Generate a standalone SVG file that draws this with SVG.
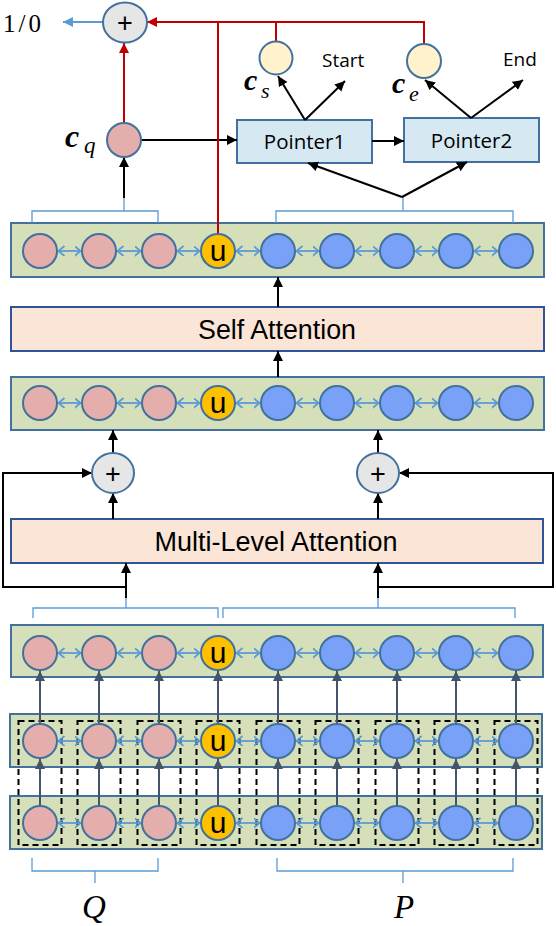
<svg xmlns="http://www.w3.org/2000/svg" width="556" height="926" viewBox="0 0 556 926">
<defs>
<style>
.row{fill:#D5DFBA;stroke:#41719C;stroke-width:2}
.att{fill:#FBE5D6;stroke:#2F5597;stroke-width:2}
.ptr{fill:#D6E9F3;stroke:#41719C;stroke-width:2}
.q{fill:#E3AEAB;stroke:#41719C;stroke-width:2}
.p{fill:#79A1F8;stroke:#41719C;stroke-width:2}
.u{fill:#FFC000;stroke:#41719C;stroke-width:2}
.c{fill:#FFF2CC;stroke:#41719C;stroke-width:2}
.plus{fill:#E7E6E6;stroke:#41719C;stroke-width:2}
.dash{fill:none;stroke:#000;stroke-width:2;stroke-dasharray:6,4}
.br{fill:none;stroke:#5B9BD5;stroke-width:1.3}
.blk{fill:none;stroke:#000;stroke-width:2}
.red{fill:none;stroke:#C00000;stroke-width:2}
.sl{fill:none;stroke:#44546A;stroke-width:2}
.dbl{fill:none;stroke:#5B9BD5;stroke-width:1.8}
.sans{font-family:"Liberation Sans",Arial,sans-serif;fill:#000}
.os{font-family:"Open Sans","Liberation Sans",sans-serif;fill:#000}
.ser{font-family:"Liberation Serif","DejaVu Serif",serif;fill:#000}
</style>
<marker id="ab" markerUnits="userSpaceOnUse" markerWidth="12" markerHeight="12" refX="10" refY="5" orient="auto"><path d="M0,0 L10,5 L0,10 Z" fill="#000"/></marker>
<marker id="ar" markerUnits="userSpaceOnUse" markerWidth="12" markerHeight="12" refX="10" refY="5" orient="auto"><path d="M0,0 L10,5 L0,10 Z" fill="#C00000"/></marker>
<marker id="abl" markerUnits="userSpaceOnUse" markerWidth="12" markerHeight="12" refX="10" refY="5" orient="auto"><path d="M0,0 L10,5 L0,10 Z" fill="#5B9BD5"/></marker>
<marker id="as" markerUnits="userSpaceOnUse" markerWidth="12" markerHeight="12" refX="10" refY="5" orient="auto"><path d="M0,0 L10,5 L0,10 Z" fill="#44546A"/></marker>
<marker id="chev" markerUnits="userSpaceOnUse" markerWidth="10" markerHeight="12" refX="6.5" refY="5" orient="auto-start-reverse"><path d="M0,0 L6,5 L0,10" fill="none" stroke="#5B9BD5" stroke-width="1.8"/></marker>
</defs>

<!-- row boxes -->
<g id="row1"><rect class="row" x="11" y="223" width="533" height="54"/></g>
<g id="row2"><rect class="row" x="11" y="377" width="533" height="53"/></g>
<g id="row3"><rect class="row" x="11" y="625" width="532" height="52"/></g>
<g id="row4"><rect class="row" x="10" y="714" width="532" height="53"/></g>
<g id="row5"><rect class="row" x="10" y="796" width="532" height="53"/></g>

<g id="self-attention"><rect class="att" x="11" y="307" width="533" height="44"/><text class="sans" x="277" y="338.5" font-size="26.8" text-anchor="middle">Self Attention</text></g>
<g id="multi-level-attention"><rect class="att" x="11" y="519" width="532" height="44"/><text class="sans" x="276" y="550.5" font-size="27" text-anchor="middle">Multi-Level Attention</text></g>

<g id="pointer1"><rect class="ptr" x="237" y="120" width="135" height="43"/><text class="os" x="304.5" y="149" font-size="20.5" text-anchor="middle">Pointer1</text></g>
<g id="pointer2"><rect class="ptr" x="404" y="118" width="135" height="44"/><text class="os" x="471.5" y="147.5" font-size="20.5" text-anchor="middle">Pointer2</text></g>

<!-- dashed groupings -->
<g id="dashed-groups">
<rect class="dash" x="18.5" y="721" width="43" height="124"/>
<rect class="dash" x="77.5" y="721" width="43" height="124"/>
<rect class="dash" x="137.5" y="721" width="43" height="124"/>
<rect class="dash" x="196.5" y="721" width="43" height="124"/>
<rect class="dash" x="256.5" y="721" width="43" height="124"/>
<rect class="dash" x="315.5" y="721" width="43" height="124"/>
<rect class="dash" x="375.5" y="721" width="43" height="124"/>
<rect class="dash" x="434.5" y="721" width="43" height="124"/>
<rect class="dash" x="494.5" y="721" width="43" height="124"/>
</g>

<!-- connectors -->
<g id="connectors">
<g id="bidir">
<path class="dbl" d="M58,251 H81" marker-start="url(#chev)" marker-end="url(#chev)"/>
<path class="dbl" d="M117,251 H141" marker-start="url(#chev)" marker-end="url(#chev)"/>
<path class="dbl" d="M177,251 H200" marker-start="url(#chev)" marker-end="url(#chev)"/>
<path class="dbl" d="M236,251 H260" marker-start="url(#chev)" marker-end="url(#chev)"/>
<path class="dbl" d="M296,251 H319" marker-start="url(#chev)" marker-end="url(#chev)"/>
<path class="dbl" d="M355,251 H379" marker-start="url(#chev)" marker-end="url(#chev)"/>
<path class="dbl" d="M415,251 H438" marker-start="url(#chev)" marker-end="url(#chev)"/>
<path class="dbl" d="M474,251 H498" marker-start="url(#chev)" marker-end="url(#chev)"/>
<path class="dbl" d="M58,403 H81" marker-start="url(#chev)" marker-end="url(#chev)"/>
<path class="dbl" d="M117,403 H141" marker-start="url(#chev)" marker-end="url(#chev)"/>
<path class="dbl" d="M177,403 H200" marker-start="url(#chev)" marker-end="url(#chev)"/>
<path class="dbl" d="M236,403 H260" marker-start="url(#chev)" marker-end="url(#chev)"/>
<path class="dbl" d="M296,403 H319" marker-start="url(#chev)" marker-end="url(#chev)"/>
<path class="dbl" d="M355,403 H379" marker-start="url(#chev)" marker-end="url(#chev)"/>
<path class="dbl" d="M415,403 H438" marker-start="url(#chev)" marker-end="url(#chev)"/>
<path class="dbl" d="M474,403 H498" marker-start="url(#chev)" marker-end="url(#chev)"/>
<path class="dbl" d="M58,653 H81" marker-start="url(#chev)" marker-end="url(#chev)"/>
<path class="dbl" d="M117,653 H141" marker-start="url(#chev)" marker-end="url(#chev)"/>
<path class="dbl" d="M177,653 H200" marker-start="url(#chev)" marker-end="url(#chev)"/>
<path class="dbl" d="M236,653 H260" marker-start="url(#chev)" marker-end="url(#chev)"/>
<path class="dbl" d="M296,653 H319" marker-start="url(#chev)" marker-end="url(#chev)"/>
<path class="dbl" d="M355,653 H379" marker-start="url(#chev)" marker-end="url(#chev)"/>
<path class="dbl" d="M415,653 H438" marker-start="url(#chev)" marker-end="url(#chev)"/>
<path class="dbl" d="M474,653 H498" marker-start="url(#chev)" marker-end="url(#chev)"/>
<path class="dbl" d="M58,741 H81" marker-start="url(#chev)" marker-end="url(#chev)"/>
<path class="dbl" d="M117,741 H141" marker-start="url(#chev)" marker-end="url(#chev)"/>
<path class="dbl" d="M177,741 H200" marker-start="url(#chev)" marker-end="url(#chev)"/>
<path class="dbl" d="M236,741 H260" marker-start="url(#chev)" marker-end="url(#chev)"/>
<path class="dbl" d="M296,741 H319" marker-start="url(#chev)" marker-end="url(#chev)"/>
<path class="dbl" d="M355,741 H379" marker-start="url(#chev)" marker-end="url(#chev)"/>
<path class="dbl" d="M415,741 H438" marker-start="url(#chev)" marker-end="url(#chev)"/>
<path class="dbl" d="M474,741 H498" marker-start="url(#chev)" marker-end="url(#chev)"/>
<path class="dbl" d="M58,823 H81" marker-start="url(#chev)" marker-end="url(#chev)"/>
<path class="dbl" d="M117,823 H141" marker-start="url(#chev)" marker-end="url(#chev)"/>
<path class="dbl" d="M177,823 H200" marker-start="url(#chev)" marker-end="url(#chev)"/>
<path class="dbl" d="M236,823 H260" marker-start="url(#chev)" marker-end="url(#chev)"/>
<path class="dbl" d="M296,823 H319" marker-start="url(#chev)" marker-end="url(#chev)"/>
<path class="dbl" d="M355,823 H379" marker-start="url(#chev)" marker-end="url(#chev)"/>
<path class="dbl" d="M415,823 H438" marker-start="url(#chev)" marker-end="url(#chev)"/>
<path class="dbl" d="M474,823 H498" marker-start="url(#chev)" marker-end="url(#chev)"/>
</g>
<!-- brackets -->
<path class="br" d="M32,223 V211 H158 V223 M124,211 V198"/>
<path class="br" d="M276,223 V211 H513 V223 M403,211 V197"/>
<path class="br" d="M33,618 V608 H218 V618 M126,608 V598"/>
<path class="br" d="M223,618 V608 H515 V618 M378,608 V598"/>
<path class="br" d="M32,858 V871 H158 V858 M95,871 V883"/>
<path class="br" d="M277,858 V871 H513 V858 M403,871 V883"/>
<!-- slate vertical arrows -->
<g id="slate-arrows">
<path class="sl" d="M40,806 V759" marker-end="url(#as)"/>
<path class="sl" d="M99,806 V759" marker-end="url(#as)"/>
<path class="sl" d="M159,806 V759" marker-end="url(#as)"/>
<path class="sl" d="M218,806 V759" marker-end="url(#as)"/>
<path class="sl" d="M278,806 V759" marker-end="url(#as)"/>
<path class="sl" d="M337,806 V759" marker-end="url(#as)"/>
<path class="sl" d="M397,806 V759" marker-end="url(#as)"/>
<path class="sl" d="M456,806 V759" marker-end="url(#as)"/>
<path class="sl" d="M516,806 V759" marker-end="url(#as)"/>
<path class="sl" d="M40,724 V671" marker-end="url(#as)"/>
<path class="sl" d="M99,724 V671" marker-end="url(#as)"/>
<path class="sl" d="M159,724 V671" marker-end="url(#as)"/>
<path class="sl" d="M218,724 V671" marker-end="url(#as)"/>
<path class="sl" d="M278,724 V671" marker-end="url(#as)"/>
<path class="sl" d="M337,724 V671" marker-end="url(#as)"/>
<path class="sl" d="M397,724 V671" marker-end="url(#as)"/>
<path class="sl" d="M456,724 V671" marker-end="url(#as)"/>
<path class="sl" d="M516,724 V671" marker-end="url(#as)"/>
</g>
<!-- black arrows -->
<path class="blk" d="M126,598 V563" marker-end="url(#ab)"/>
<path class="blk" d="M378,598 V563" marker-end="url(#ab)"/>
<path class="blk" d="M126,587 H3 V473 H92" marker-end="url(#ab)"/>
<path class="blk" d="M378,587 H553 V473 H399" marker-end="url(#ab)"/>
<path class="blk" d="M113,519 V493" marker-end="url(#ab)"/>
<path class="blk" d="M378,519 V493" marker-end="url(#ab)"/>
<path class="blk" d="M113,453 V430" marker-end="url(#ab)"/>
<path class="blk" d="M378,453 V430" marker-end="url(#ab)"/>
<path class="blk" d="M278,377 V351" marker-end="url(#ab)"/>
<path class="blk" d="M278,307 V277" marker-end="url(#ab)"/>
<path class="blk" d="M124,198 V157" marker-end="url(#ab)"/>
<path class="blk" d="M141,140 H237" marker-end="url(#ab)"/>
<path class="blk" d="M372,141 H404" marker-end="url(#ab)"/>
<path class="blk" d="M402,197 L308,163" marker-end="url(#ab)"/>
<path class="blk" d="M402,197 L467,162" marker-end="url(#ab)"/>
<path class="blk" d="M305,120 L278,76" marker-end="url(#ab)"/>
<path class="blk" d="M305,120 L345,81" marker-end="url(#ab)"/>
<path class="blk" d="M471,118 L425,80" marker-end="url(#ab)"/>
<path class="blk" d="M471,118 L523,80" marker-end="url(#ab)"/>
<!-- red -->
<path class="red" d="M124,123 V43" marker-end="url(#ar)"/>
<path class="red" d="M424,44 V22 H147" marker-end="url(#ar)"/>
<path class="red" d="M218,22 V234"/>
<path class="red" d="M276,22 V41"/>
<!-- blue output -->
<path fill="none" stroke="#5B9BD5" stroke-width="2" d="M103,22 H63" marker-end="url(#abl)"/>
</g>

<!-- node circles -->
<g id="row1-nodes">
<circle class="q" cx="40" cy="251" r="17"/><circle class="q" cx="99" cy="251" r="17"/><circle class="q" cx="159" cy="251" r="17"/>
<circle class="u" cx="218" cy="251" r="17"/><text class="sans" x="218" y="261" font-size="30" text-anchor="middle">u</text>
<circle class="p" cx="278" cy="251" r="17"/><circle class="p" cx="337" cy="251" r="17"/><circle class="p" cx="397" cy="251" r="17"/><circle class="p" cx="456" cy="251" r="17"/><circle class="p" cx="516" cy="251" r="17"/>
</g>
<g id="row2-nodes">
<circle class="q" cx="40" cy="403" r="17"/><circle class="q" cx="99" cy="403" r="17"/><circle class="q" cx="159" cy="403" r="17"/>
<circle class="u" cx="218" cy="403" r="17"/><text class="sans" x="218" y="413" font-size="30" text-anchor="middle">u</text>
<circle class="p" cx="278" cy="403" r="17"/><circle class="p" cx="337" cy="403" r="17"/><circle class="p" cx="397" cy="403" r="17"/><circle class="p" cx="456" cy="403" r="17"/><circle class="p" cx="516" cy="403" r="17"/>
</g>
<g id="row3-nodes">
<circle class="q" cx="40" cy="653" r="17"/><circle class="q" cx="99" cy="653" r="17"/><circle class="q" cx="159" cy="653" r="17"/>
<circle class="u" cx="218" cy="653" r="17"/><text class="sans" x="218" y="663" font-size="30" text-anchor="middle">u</text>
<circle class="p" cx="278" cy="653" r="17"/><circle class="p" cx="337" cy="653" r="17"/><circle class="p" cx="397" cy="653" r="17"/><circle class="p" cx="456" cy="653" r="17"/><circle class="p" cx="516" cy="653" r="17"/>
</g>
<g id="row4-nodes">
<circle class="q" cx="40" cy="741" r="17"/><circle class="q" cx="99" cy="741" r="17"/><circle class="q" cx="159" cy="741" r="17"/>
<circle class="u" cx="218" cy="741" r="17"/><text class="sans" x="218" y="751" font-size="30" text-anchor="middle">u</text>
<circle class="p" cx="278" cy="741" r="17"/><circle class="p" cx="337" cy="741" r="17"/><circle class="p" cx="397" cy="741" r="17"/><circle class="p" cx="456" cy="741" r="17"/><circle class="p" cx="516" cy="741" r="17"/>
</g>
<g id="row5-nodes">
<circle class="q" cx="40" cy="823" r="17"/><circle class="q" cx="99" cy="823" r="17"/><circle class="q" cx="159" cy="823" r="17"/>
<circle class="u" cx="218" cy="823" r="17"/><text class="sans" x="218" y="833" font-size="30" text-anchor="middle">u</text>
<circle class="p" cx="278" cy="823" r="17"/><circle class="p" cx="337" cy="823" r="17"/><circle class="p" cx="397" cy="823" r="17"/><circle class="p" cx="456" cy="823" r="17"/><circle class="p" cx="516" cy="823" r="17"/>
</g>

<g id="cq"><circle class="q" cx="124" cy="140" r="17"/>
<text class="ser" x="65" y="147" font-size="32" font-weight="bold" font-style="italic">c</text><text class="ser" x="84" y="153" font-size="23" font-style="italic">q</text></g>
<g id="cs"><circle class="c" cx="276" cy="58" r="16.5"/>
<text class="ser" x="244" y="90" font-size="30" font-weight="bold" font-style="italic">c</text><text class="ser" x="261" y="98" font-size="22" font-style="italic">s</text></g>
<g id="ce"><circle class="c" cx="424" cy="61" r="17"/>
<text class="ser" x="392" y="93" font-size="30" font-weight="bold" font-style="italic">c</text><text class="ser" x="409" y="101" font-size="22" font-style="italic">e</text></g>

<g id="plus-top"><ellipse class="plus" cx="125" cy="22.5" rx="22" ry="20"/><text class="sans" x="125" y="32" font-size="27" text-anchor="middle">+</text></g>
<g id="plus-left"><ellipse class="plus" cx="113" cy="473" rx="21" ry="20"/><text class="sans" x="113" y="482.5" font-size="27" text-anchor="middle">+</text></g>
<g id="plus-right"><ellipse class="plus" cx="378" cy="473" rx="21" ry="20"/><text class="sans" x="378" y="482.5" font-size="27" text-anchor="middle">+</text></g>

<g id="labels">
<text class="ser" x="3" y="32" font-size="25" letter-spacing="3">1/0</text>
<text class="os" x="322" y="67" font-size="19">Start</text>
<text class="os" x="503" y="66" font-size="19">End</text>
<text class="ser" x="94" y="918" font-size="33" font-style="italic" text-anchor="middle">Q</text>
<text class="ser" x="404" y="918" font-size="33" font-style="italic" text-anchor="middle">P</text>
</g>
</svg>
